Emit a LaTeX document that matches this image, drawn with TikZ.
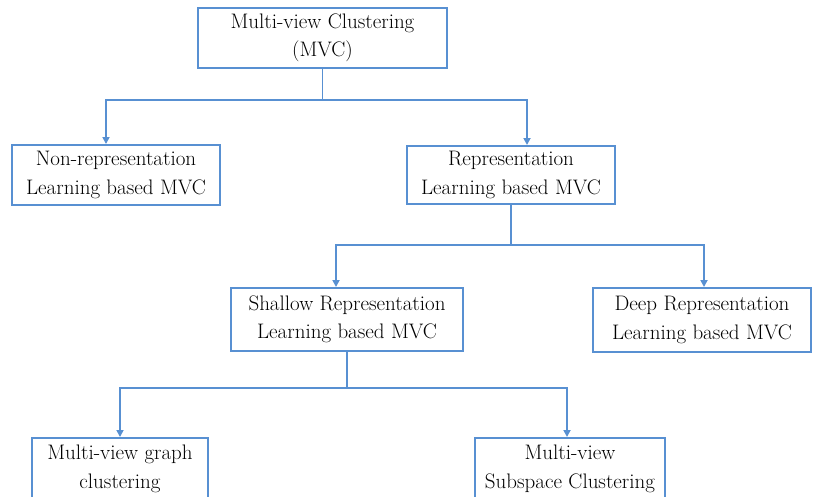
\documentclass[tikz,border=0pt]{standalone}
\usetikzlibrary{arrows.meta}
\definecolor{lblue}{RGB}{88,144,210}
\begin{document}
\begin{tikzpicture}[x=1pt,y=-1pt,
  box/.style={draw=lblue, line width=2pt, fill=white, align=center, inner sep=0pt,
    font=\fontsize{21}{28.5}\selectfont, text=black},
  conn/.style={draw=lblue, line width=1.7pt},
  arr/.style={conn, -{Triangle[length=7pt,width=7pt]}}]
\useasboundingbox (0,0) rectangle (813,496);
\clip (0,0) rectangle (813,496);
\node[box, minimum width=249pt, minimum height=60pt] (top) at (322.5,38) {Multi-view Clustering\\(MVC)};
\node[box, minimum width=208pt, minimum height=60pt] (nonrep) at (116,175) {Non-representation\\Learning based MVC};
\node[box, minimum width=208pt, minimum height=58pt] (rep) at (511,175) {Representation\\Learning based MVC};
\node[box, minimum width=232pt, minimum height=63pt] (shallow) at (347,319.5) {Shallow Representation\\Learning based MVC};
\node[box, minimum width=218pt, minimum height=64pt] (deep) at (702,320) {Deep Representation\\Learning based MVC};
\node[box, minimum width=176pt, minimum height=62pt] (mvg) at (120,469) {Multi-view graph\\clustering};
\node[box, minimum width=190pt, minimum height=62pt] (mvs) at (570,469) {Multi-view\\Subspace Clustering};
\draw[conn] (top.south) -- ++(0,31) coordinate (j1);
\draw[arr] (j1) -| ([xshift=-10pt]nonrep.north);
\draw[arr] (j1) -| ([xshift=16pt]rep.north);
\draw[conn] (rep.south) -- ++(0,40) coordinate (j2);
\draw[arr] (j2) -| ([xshift=-11pt]shallow.north);
\draw[arr] (j2) -| ([xshift=2pt]deep.north);
\draw[conn] (shallow.south) -- ++(0,36) coordinate (j3);
\draw[arr] (j3) -| (mvg.north);
\draw[arr] (j3) -| ([xshift=-3pt]mvs.north);
\end{tikzpicture}
\end{document}
